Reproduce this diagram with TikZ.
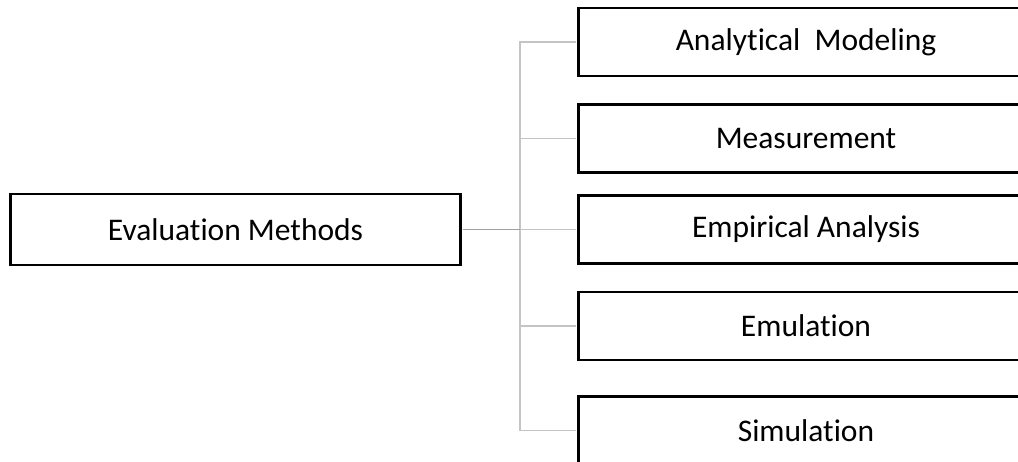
\documentclass[tikz,border=0pt]{standalone}
\usepackage{fontspec}
\setmainfont[Ligatures=NoCommon]{Carlito}
\definecolor{trunkgray}{HTML}{A0A0A0}
\definecolor{branchgray}{HTML}{C4C4C4}
\begin{document}
\begin{tikzpicture}[x=1pt,y=-1pt,
  box/.style={draw=black,line width=2.2pt,fill=white,inner sep=0pt,
    font=\fontsize{31.5}{36}\selectfont},
  method/.style={box,minimum width=455pt,minimum height=68pt},
  root/.style={box,minimum width=450pt,minimum height=71pt},
  stem/.style={draw=trunkgray,line width=1.6pt,shorten <=1pt},
  branch/.style={draw=branchgray,line width=1.1pt,shorten >=1pt}]
\useasboundingbox (0,0) rectangle (1018,462);
\begin{scope}
\clip (0,0) rectangle (1018,462);
\coordinate (hub) at (520,229.5);
\node[root] (eval) at (235.5,229.5) {Evaluation Methods};
\node[method] (m1) at (806,42) {Analytical\ \ Modeling};
\node[method] (m2) at (806,138.5) {Measurement};
\node[method] (m3) at (806,229.5) {Empirical Analysis};
\node[method] (m4) at (806,326) {Emulation};
\node[method] (m5) at (806,430.5) {Simulation};
% tree connectors: one trunk at x = 520 with a branch to each method
\draw[branch] (hub) |- (m1.west);
\draw[branch] (hub) |- (m2.west);
\draw[branch] (hub) -- (m3.west);
\draw[branch] (hub) |- (m4.west);
\draw[branch] (hub) |- (m5.west);
\draw[stem] (eval.east) -- (hub);
\end{scope}
\end{tikzpicture}
\end{document}
